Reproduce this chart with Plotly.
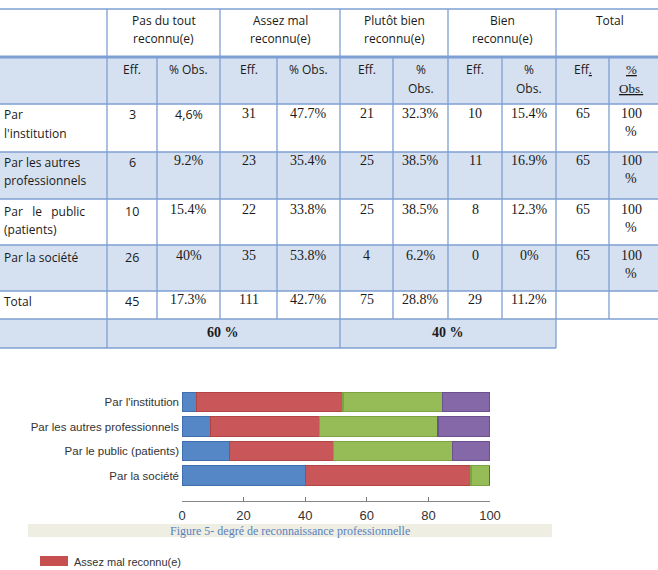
import plotly.graph_objects as go

# ---------------- Table data ----------------
group_headers = ["Pas du tout<br>reconnu(e)", "Assez mal<br>reconnu(e)", "Plutôt bien<br>reconnu(e)",
                 "Bien<br>reconnu(e)", "Total"]
sub_headers = ["Eff.", "% Obs.", "Eff.", "% Obs.", "Eff.", "%<br>Obs.", "Eff.", "%<br>Obs.",
               "Eff<u>.</u>", "<u>%</u><br><u>Obs.</u>"]
row_labels = ["Par<br>l'institution", "Par les autres<br>professionnels", "Par   le   public<br>(patients)",
              "Par la société", "Total"]
eff_pas = ["3", "6", "10", "26", "45"]
pct_pas = ["4,6%", "9.2%", "15.4%", "40%", "17.3%"]
eff_assez = ["31", "23", "22", "35", "111"]
pct_assez = ["47.7%", "35.4%", "33.8%", "53.8%", "42.7%"]
eff_plutot = ["21", "25", "25", "4", "75"]
pct_plutot = ["32.3%", "38.5%", "38.5%", "6.2%", "28.8%"]
eff_bien = ["10", "11", "8", "0", "29"]
pct_bien = ["15.4%", "16.9%", "12.3%", "0%", "11.2%"]
eff_total = ["65", "65", "65", "65", ""]
pct_total = ["100<br>%", "100<br>%", "100<br>%", "100<br>%", ""]
summary_labels = ["60 %", "40 %"]

# ---------------- Chart data ----------------
categories = ["Par l'institution", "Par les autres professionnels", "Par le public (patients)", "Par la société"]
series_names = ["Pas du tout reconnu(e)", "Assez mal reconnu(e)", "Plutôt bien reconnu(e)", "Bien reconnu(e)"]
pas_du_tout = [4.6, 9.2, 15.4, 40]
assez_mal = [47.7, 35.4, 33.8, 53.8]
plutot_bien = [32.3, 38.5, 38.5, 6.2]
bien = [15.4, 16.9, 12.3, 0]
x_ticks = [0, 20, 40, 60, 80, 100]
caption = "Figure 5- degré de reconnaissance professionnelle"
legend_label = "Assez mal reconnu(e)"

W, H = 658, 570
def X(px): return px / W
def Y(py): return 1 - py / H

SANS = "Open Sans, Noto Sans, sans-serif"
SERIF = "Liberation Serif, Times New Roman, serif"
BORDER = "#7d9fd3"
SHADE = "#d5e0f0"
TXT = "#1a1a1a"

shapes = []
annotations = []

def rect(x0, y0, x1, y1, fill):
    shapes.append(dict(type="rect", xref="paper", yref="paper", x0=X(x0), x1=X(x1), y0=Y(y0), y1=Y(y1),
                       fillcolor=fill, line=dict(width=0), layer="below"))

def line(x0, y0, x1, y1, w=1.3, color=BORDER):
    shapes.append(dict(type="line", xref="paper", yref="paper", x0=X(x0), x1=X(x1), y0=Y(y0), y1=Y(y1),
                       line=dict(color=color, width=w)))

def text(s, cx, cy, font=SANS, size=12, align="center", lh=18.5, color=TXT):
    parts = s.split("<br>")
    for i, p in enumerate(parts):
        annotations.append(dict(xref="paper", yref="paper", x=X(cx), y=Y(cy + i * lh), text=p,
                                showarrow=False, xanchor=align, yanchor="middle",
                                font=dict(family=font, size=size, color=color)))

sub_x = [107, 157, 220, 277, 340, 393, 448, 502, 556, 609, 658]
grp_x = [107, 220, 340, 448, 556, 658]

# shading
rect(0, 57, 658, 104, SHADE)
rect(0, 152, 658, 199, SHADE)
rect(0, 245, 658, 291, SHADE)
rect(0, 319, 556, 348, SHADE)

# horizontal lines
line(0, 9, 658, 9)
line(0, 57, 658, 57, w=3)
for yy in [104, 152, 199, 245, 291, 319]:
    line(0, yy, 658, yy)
line(0, 348, 556, 348)
# vertical lines
for xx in grp_x[:-1]:
    line(xx, 9, xx, 57)
for xx in sub_x[:-1]:
    line(xx, 57, xx, 319)
for xx in [107, 340, 556]:
    line(xx, 319, xx, 348)

# headers
for i, g in enumerate(group_headers):
    cx = (grp_x[i] + grp_x[i + 1]) / 2
    if i == 4:
        cx = 610
    text(g, cx, 20, size=12, lh=19)
sub_centers = [(sub_x[i] + sub_x[i + 1]) / 2 for i in range(10)]
sub_centers[9] = 631
for i, s in enumerate(sub_headers):
    f = SERIF if i == 9 else SANS
    text(s, sub_centers[i], 69, font=f, size=12 if f == SANS else 13, lh=19)

# body
row_text_y = [115, 162, 211, 257, 301]
cols = [eff_pas, pct_pas, eff_assez, pct_assez, eff_plutot, pct_plutot, eff_bien, pct_bien, eff_total, pct_total]
for r in range(5):
    text(row_labels[r], 2, row_text_y[r], size=12, align="left", lh=18)
    for c in range(10):
        val = cols[c][r]
        if not val:
            continue
        f = SANS if (c == 0 or (c == 1 and r == 0)) else SERIF
        text(val, sub_centers[c], row_text_y[r] - (0 if f == SANS else 1.5), font=f,
             size=12.5 if f == SANS else 14, lh=18)

text("<b>" + summary_labels[0] + "</b>", 223, 332, font=SERIF, size=14)
text("<b>" + summary_labels[1] + "</b>", 448, 332, font=SERIF, size=14)

# caption band
rect(28, 524, 552, 537, "#eeeee3")
text(caption, 290, 530.5, font=SERIF, size=12, color="#5b7fbf")

# legend swatch + label
shapes.append(dict(type="rect", xref="paper", yref="paper", x0=X(40), x1=X(68), y0=Y(556), y1=Y(566),
                   fillcolor="#c5504f", line=dict(width=0)))
text(legend_label, 72, 561.5, font="Liberation Sans, Arial, sans-serif", size=11, align="left", color="#333")

# ---------------- Bars ----------------
colors = ["#5587c6", "#c9575a", "#95bc56", "#8568a8"]
edges = ["#3f6fae", "#b34444", "#7ea342", "#6c5191"]
series = [pas_du_tout, assez_mal, plutot_bien, bien]

fig = go.Figure()
for name, vals, col, ed in zip(series_names, series, colors, edges):
    fig.add_trace(go.Bar(y=categories, x=vals, orientation="h", name=name,
                         marker=dict(color=col, line=dict(color=ed, width=1.2)),
                         showlegend=False, hoverinfo="x+name"))

fig.update_layout(
    width=W, height=H, margin=dict(l=0, r=0, t=0, b=0, autoexpand=False), autosize=False,
    paper_bgcolor="white", plot_bgcolor="white",
    barmode="stack", bargap=0.2,
    shapes=shapes, annotations=annotations,
    xaxis=dict(domain=[X(182), X(490)], range=[0, 100], tickvals=x_ticks, ticks="inside", ticklen=4,
               tickcolor="#777", showline=True, linecolor="#888", linewidth=1, showgrid=False,
               zeroline=False, automargin=False, ticklabelstandoff=2,
               tickfont=dict(family="Liberation Sans Narrow, Liberation Sans, Arial", size=13, color="#333"),
               fixedrange=True),
    yaxis=dict(domain=[Y(501), Y(388)], type="category", categoryorder="array", categoryarray=categories,
               range=[4.04, -0.571], showline=False, ticks="", showgrid=False, automargin=False,
               tickfont=dict(family="Liberation Sans, Arial, sans-serif", size=11.5, color="#333"),
               ticklabelstandoff=2, fixedrange=True),
)

fig.write_html(
    "out.html",
    config={"displayModeBar": False, "responsive": False, "staticPlot": True},
    post_script=("document.documentElement.style.margin='0px';document.body.style.margin='0px';"
                 "document.documentElement.style.overflow='hidden';document.body.style.overflow='hidden';"
                 "var d=document.getElementById('{plot_id}');d.style.overflow='hidden';"),
)
